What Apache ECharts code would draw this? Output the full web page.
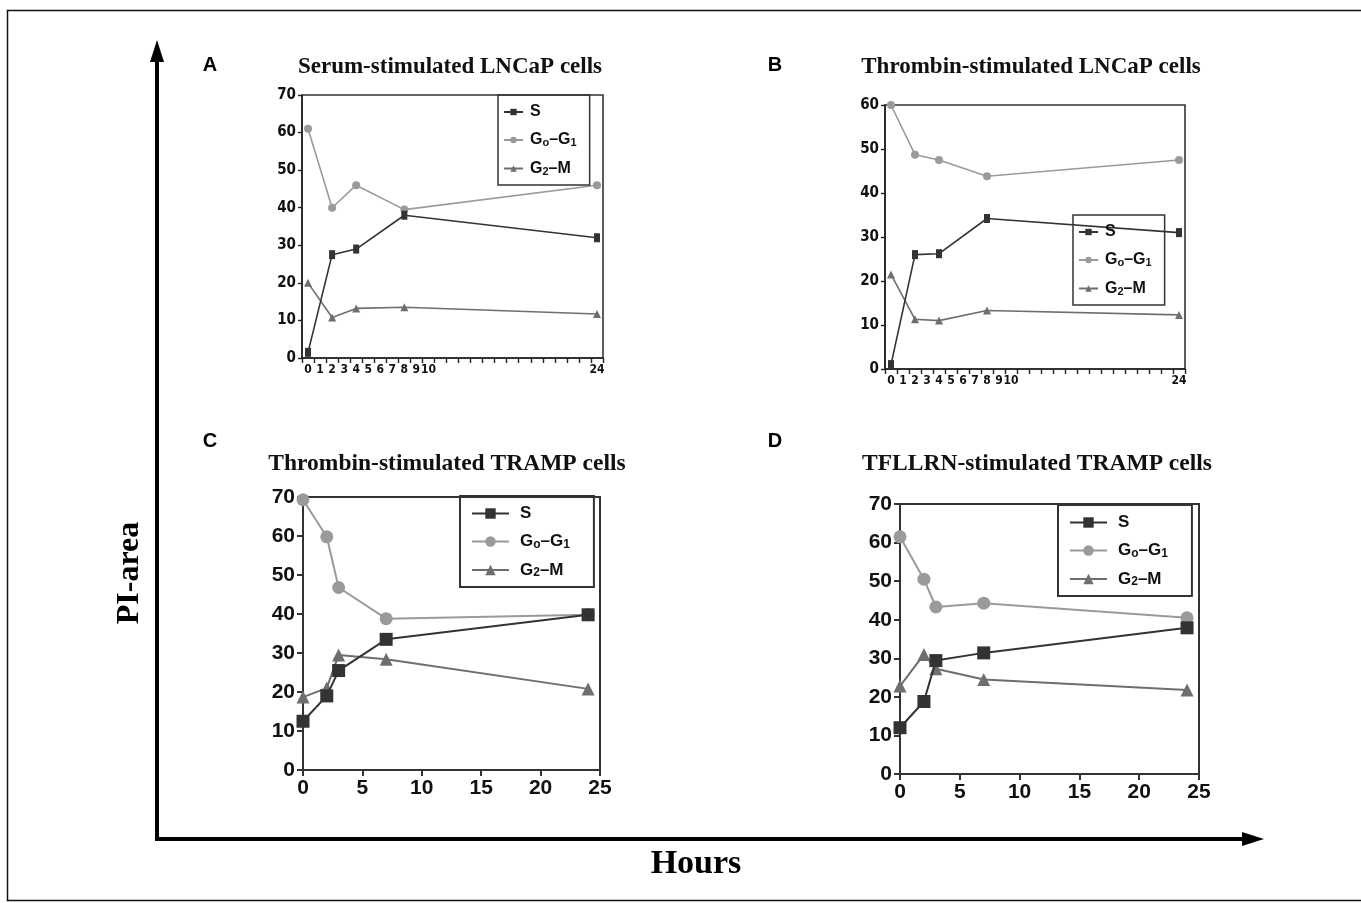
<!DOCTYPE html>
<html>
<head>
<meta charset="utf-8">
<script src="https://cdn.jsdelivr.net/npm/echarts@6/dist/echarts.min.js"></script>
<style>
  html, body { margin: 0; padding: 0; background: #fff; }
  #chart { width: 1361px; height: 903px; }
</style>
</head>
<body>
<div id="chart"></div>
<script>
// sampling times (hours)
const lncapHours = [0, 2, 4, 8, 24];
const trampHours = [0, 2, 3, 7, 24];

// A: serum-stimulated LNCaP
const serumS = [1.5, 27.5, 29, 38, 32];
const serumG0G1 = [61, 40, 46, 39.5, 46];
const serumG2M = [20, 10.8, 13.2, 13.5, 11.7];

// B: thrombin-stimulated LNCaP
const thrLncapS = [1, 26, 26.2, 34.2, 31];
const thrLncapG0G1 = [60, 48.7, 47.5, 43.8, 47.5];
const thrLncapG2M = [21.5, 11.3, 11, 13.3, 12.3];

// C: thrombin-stimulated TRAMP
const thrTrampS = [12.5, 19, 25.5, 33.5, 39.8];
const thrTrampG0G1 = [69.3, 59.8, 46.8, 38.8, 39.8];
const thrTrampG2M = [18.7, 21, 29.5, 28.4, 20.8];

// D: TFLLRN-stimulated TRAMP
const tflS = [12, 18.8, 29.4, 31.4, 37.9];
const tflG0G1 = [61.5, 50.5, 43.3, 44.3, 40.5];
const tflG2M = [22.8, 31, 27.3, 24.5, 21.8];

// tick labels
const lncapXLabels = [0, 1, 2, 3, 4, 5, 6, 7, 8, 9, 10, 24];
const lncapXTicks = [];
for (let i = 0; i <= 25; i++) lncapXTicks.push(i - 0.5);

const phaseNames = ['S', 'G0-G1', 'G2-M'];
const phaseColors = { 'S': '#333333', 'G0-G1': '#9a9a9a', 'G2-M': '#6e6e6e' };
const phaseSymbols = { 'S': 'rect', 'G0-G1': 'circle', 'G2-M': 'triangle' };

const narrow = '"Liberation Sans Narrow", "DejaVu Sans Condensed", Arial, sans-serif';
const sans = '"Liberation Sans", Arial, sans-serif';
const serif = '"Liberation Serif", "Times New Roman", serif';

function pairs(xs, ys) {
  return xs.map((x, i) => [x, ys[i]]);
}

function phaseLabel(name) {
  if (name === 'S') return '{b|S}';
  if (name === 'G0-G1') return '{b|G}{s|o}{b|–G}{s|1}';
  return '{b|G}{s|2}{b|–M}';
}

function makeLegend(left, top, big) {
  const fs = big ? 17 : 16;
  return {
    orient: 'vertical',
    left: left,
    top: top,
    data: phaseNames,
    itemWidth: big ? 37 : 19,
    itemHeight: big ? 13 : 8,
    itemGap: big ? 11 : 12,
    padding: big ? [9, 24, 8, 11] : [9, 13, 8, 5],
    borderColor: '#333',
    borderWidth: big ? 2 : 1.5,
    selectedMode: false,
    formatter: phaseLabel,
    textStyle: {
      padding: [0, 0, 0, big ? 6 : 2],
      rich: {
        b: { fontSize: fs, fontWeight: 'bold', fontFamily: sans, color: '#111' },
        s: { fontSize: fs - 5, fontWeight: 'bold', fontFamily: sans, color: '#111',
             verticalAlign: 'bottom', padding: [6, 0, 0, 0] }
      }
    }
  };
}

function makeSeries(gridIdx, xs, s, g0, g2, big) {
  const vals = { 'S': s, 'G0-G1': g0, 'G2-M': g2 };
  return phaseNames.map(name => ({
    name: name,
    type: 'line',
    xAxisIndex: gridIdx,
    yAxisIndex: gridIdx,
    data: pairs(xs, vals[name]),
    symbol: phaseSymbols[name],
    symbolSize: big ? 13 : (name === 'S' ? [6, 9] : 8),
    color: phaseColors[name],
    lineStyle: { color: phaseColors[name], width: big ? 2 : 1.6 },
    itemStyle: { color: phaseColors[name] },
    z: name === 'S' ? 3 : 2,
    animation: false
  }));
}

function lncapX(gridIdx) {
  return {
    type: 'value',
    gridIndex: gridIdx,
    min: -0.5,
    max: 24.5,
    splitLine: { show: false },
    axisLine: { onZero: false, lineStyle: { color: '#222', width: 1.6 } },
    axisTick: { customValues: lncapXTicks, length: 5, lineStyle: { color: '#222', width: 1.4 } },
    axisLabel: {
      customValues: lncapXLabels,
      margin: 6,
      fontFamily: narrow, fontWeight: 'bold', fontSize: 12, color: '#111'
    }
  };
}

function lncapY(gridIdx, max) {
  return {
    type: 'value',
    gridIndex: gridIdx,
    min: 0,
    max: max,
    interval: 10,
    splitLine: { show: false },
    axisLine: { show: true, onZero: false, lineStyle: { color: '#222', width: 1.6 } },
    axisTick: { show: true, length: 4, lineStyle: { color: '#222', width: 1.4 } },
    axisLabel: { margin: 6, fontFamily: narrow, fontWeight: 'bold', fontSize: 15, color: '#111' }
  };
}

function trampX(gridIdx) {
  return {
    type: 'value',
    gridIndex: gridIdx,
    min: 0,
    max: 25,
    interval: 5,
    splitLine: { show: false },
    axisLine: { onZero: false, lineStyle: { color: '#333', width: 2 } },
    axisTick: { length: 6, lineStyle: { color: '#333', width: 2 } },
    axisLabel: { margin: 8, fontFamily: sans, fontWeight: 'bold', fontSize: 21, color: '#111' }
  };
}

function trampY(gridIdx) {
  return {
    type: 'value',
    gridIndex: gridIdx,
    min: 0,
    max: 70,
    interval: 10,
    splitLine: { show: false },
    axisLine: { show: true, onZero: false, lineStyle: { color: '#333', width: 2 } },
    axisTick: { show: true, length: 6, lineStyle: { color: '#333', width: 2 } },
    axisLabel: { margin: 8, fontFamily: sans, fontWeight: 'bold', fontSize: 21, color: '#111' }
  };
}

const chart = echarts.init(document.getElementById('chart'));

const gridBase = { show: true, borderColor: '#333', backgroundColor: 'transparent', containLabel: false, outerBoundsMode: 'none' };

const option = {
  backgroundColor: '#fff',
  animation: false,
  title: [
    { text: 'Serum-stimulated LNCaP cells', left: 450, top: 56 },
    { text: 'Thrombin-stimulated LNCaP cells', left: 1031, top: 56 },
    { text: 'Thrombin-stimulated TRAMP cells', left: 447, top: 452 },
    { text: 'TFLLRN-stimulated TRAMP cells', left: 1037, top: 452 }
  ].map(t => Object.assign(t, {
    textAlign: 'center',
    padding: 0,
    textStyle: { fontFamily: serif, fontWeight: 'bold', fontSize: t.top > 400 ? 23.5 : 23, color: '#111' }
  })),
  grid: [
    Object.assign({ left: 302, top: 95, width: 301, height: 263, borderWidth: 1.6 }, gridBase),
    Object.assign({ left: 885, top: 105, width: 300, height: 264, borderWidth: 1.6 }, gridBase),
    Object.assign({ left: 303, top: 497, width: 297, height: 273, borderWidth: 2 }, gridBase),
    Object.assign({ left: 900, top: 504, width: 299, height: 270, borderWidth: 2 }, gridBase)
  ],
  xAxis: [lncapX(0), lncapX(1), trampX(2), trampX(3)],
  yAxis: [lncapY(0, 70), lncapY(1, 60), trampY(2), trampY(3)],
  legend: [
    makeLegend(498, 95, false),
    makeLegend(1073, 215, false),
    makeLegend(460, 496, true),
    makeLegend(1058, 505, true)
  ],
  series: [].concat(
    makeSeries(0, lncapHours, serumS, serumG0G1, serumG2M, false),
    makeSeries(1, lncapHours, thrLncapS, thrLncapG0G1, thrLncapG2M, false),
    makeSeries(2, trampHours, thrTrampS, thrTrampG0G1, thrTrampG2M, true),
    makeSeries(3, trampHours, tflS, tflG0G1, tflG2M, true)
  ),
  graphic: [
    // outer frame
    { type: 'rect', shape: { x: 7.5, y: 10.5, width: 1360, height: 890 },
      style: { fill: 'none', stroke: '#111', lineWidth: 1.5 }, silent: true },
    // big axes with arrows
    { type: 'line', shape: { x1: 157, y1: 841, x2: 157, y2: 58 },
      style: { stroke: '#000', lineWidth: 4 }, silent: true },
    { type: 'polygon', shape: { points: [[157, 40], [150, 62], [164, 62]] },
      style: { fill: '#000' }, silent: true },
    { type: 'line', shape: { x1: 155, y1: 839, x2: 1245, y2: 839 },
      style: { stroke: '#000', lineWidth: 4 }, silent: true },
    { type: 'polygon', shape: { points: [[1264, 839], [1242, 832], [1242, 846]] },
      style: { fill: '#000' }, silent: true },
    // axis names
    { type: 'text', x: 130, y: 573, rotation: Math.PI / 2,
      style: { text: 'PI-area', font: 'bold 32px ' + serif, fill: '#000',
               textAlign: 'center', textVerticalAlign: 'middle' }, silent: true },
    { type: 'text', x: 696, y: 864,
      style: { text: 'Hours', font: 'bold 34px ' + serif, fill: '#000',
               textAlign: 'center', textVerticalAlign: 'middle' }, silent: true },
    // panel letters
    { type: 'text', x: 210, y: 65, style: { text: 'A', font: 'bold 20px ' + sans, fill: '#000', textAlign: 'center', textVerticalAlign: 'middle' } },
    { type: 'text', x: 775, y: 65, style: { text: 'B', font: 'bold 20px ' + sans, fill: '#000', textAlign: 'center', textVerticalAlign: 'middle' } },
    { type: 'text', x: 210, y: 441, style: { text: 'C', font: 'bold 20px ' + sans, fill: '#000', textAlign: 'center', textVerticalAlign: 'middle' } },
    { type: 'text', x: 775, y: 441, style: { text: 'D', font: 'bold 20px ' + sans, fill: '#000', textAlign: 'center', textVerticalAlign: 'middle' } }
  ]
};

chart.setOption(option);
</script>
</body>
</html>
